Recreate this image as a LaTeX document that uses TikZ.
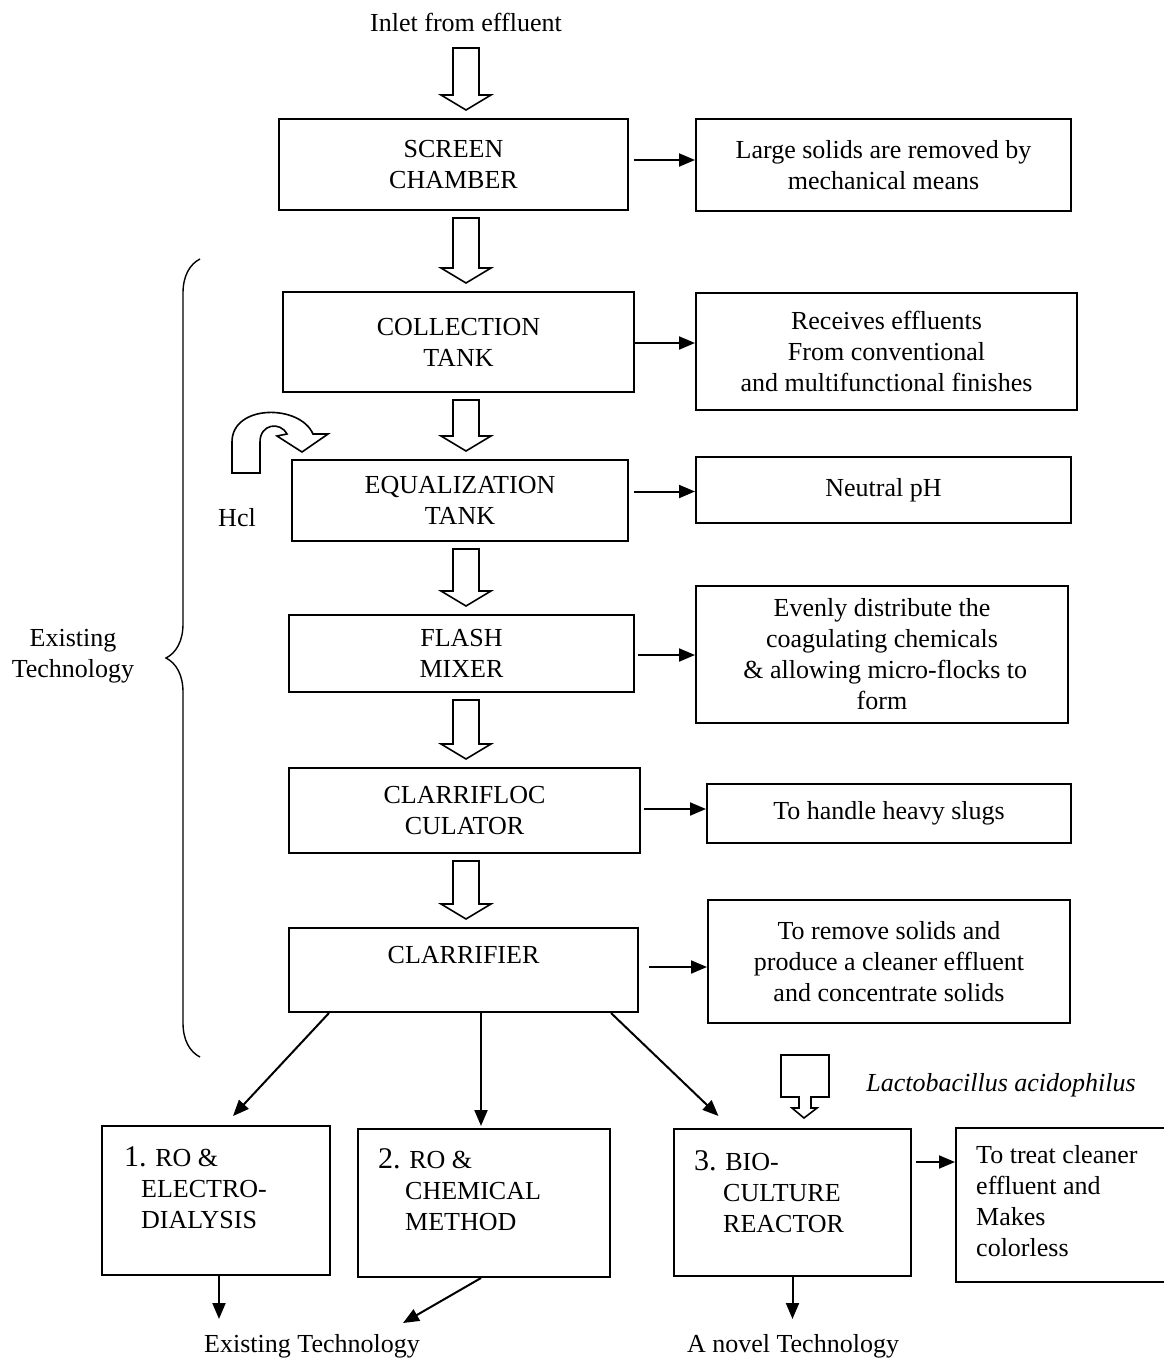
\documentclass[tikz,border=0pt]{standalone}
\usepackage{fontspec}
\setmainfont{Liberation Serif}
\usetikzlibrary{calc,arrows.meta,decorations.pathreplacing}
\tikzset{ box/.style = { rectangle % process step
, draw
, line width = 2pt
, align = center
, inner sep = 0pt
}
, lbl/.style = { align = left % text in a bottom box
, inner sep = 0pt
, anchor = north west
}
, arr/.style = { line width = 2pt % thin arrow
, -{Triangle[length=16pt, width=13pt]}
}
, blk/.style = { line width = 1.6pt % hollow arrow
, line join = miter
, fill = white
}
, brc/.style = { line width = 1.4pt % brace
, decorate
, decoration = {brace, amplitude=34pt}
}
}
\newcommand{\nr}[1]{{\fontsize{30}{31}\selectfont #1}}
\def\hollow(#1,#2){% hollow arrow from #1 down to #2
\draw[blk] let \p1 = (#1), \p2 = (#2) in
(453pt,\y1-7pt) -- (479pt,\y1-7pt) -- (479pt,\y2+23pt) -- (491pt,\y2+23pt)
-- (466pt,\y2+8pt) -- (441pt,\y2+23pt) -- (453pt,\y2+23pt) -- cycle;
}

\begin{document}
\begin{tikzpicture}[x=1pt, y=-1pt, font=\fontsize{26}{31}\selectfont]
\useasboundingbox (0,0) rectangle (1163,1361);

\node (inlet) at (466,22) {Inlet from effluent};
\coordinate (feed) at (466,41);

\node[box, minimum width=349, minimum height=91] (screen) at (453.5,164.5) {SCREEN\\CHAMBER};
\node[box, minimum width=351, minimum height=100] (coll) at (458.5,342) {COLLECTION\\TANK};
\node[box, minimum width=336, minimum height=81] (equal) at (460,500.5) {EQUALIZATION\\TANK};
\node[box, minimum width=345, minimum height=77] (flash) at (461.5,653.5) {FLASH\\MIXER};
\node[box, minimum width=351, minimum height=85] (floc) at (464.5,810.5) {CLARRIFLOC\\CULATOR};
\node[box, minimum width=349, minimum height=84, text depth=30pt] (clar) at (463.5,970) {CLARRIFIER};

\node[box, minimum width=375, minimum height=92] (large) at (883.5,165) {Large solids are removed by\\mechanical means};
\node[box, minimum width=381, minimum height=117] (recv) at (886.5,351.5) {Receives effluents\\From conventional\\and multifunctional finishes};
\node[box, minimum width=375, minimum height=66] (neutral) at (883.5,490) {Neutral pH};
\node[box, minimum width=372, minimum height=137] (even) at (882,654.5) {Evenly distribute the\\coagulating chemicals\\\ \& allowing micro-flocks to\\form};
\node[box, minimum width=364, minimum height=59] (slugs) at (889,813.5) {To handle heavy slugs};
\node[box, minimum width=362, minimum height=123] (remove) at (889,961.5) {To remove solids and\\produce a cleaner effluent\\and concentrate solids};

\hollow(feed,screen.north)
\hollow(screen.south,coll.north)
\hollow(coll.south,equal.north)
\hollow(equal.south,flash.north)
\hollow(flash.south,floc.north)
\hollow(floc.south,clar.north)

\foreach \a/\b/\dx/\dy in {screen/large/5/-4.5, coll/recv/0/1, equal/neutral/5/-9,
flash/even/3/1.5, floc/slugs/3/-1.5, clar/remove/10/-3}
\draw[arr] ([shift={(\dx,\dy)}]\a.east) coordinate (p) -- (\b.west |- p);

% acid dosing
\draw[blk] (232,473) -- (232,442) .. controls (232,404) and (300,404) .. (313,434)
-- (328,434) -- (302,452) -- (277,436) -- (287,434)
.. controls (280,421) and (260,424) .. (260,442) -- (260,473) -- cycle;
\node (hcl) at (237,518) {Hcl};

% existing plant
\coordinate (bb) at (200,1057);
\coordinate (bt) at (200,259);
\draw[brc] (bb) -- (bt);
\node[align=center] (exist) at (73,656) {Existing\\Technology};

% treatment options
\node[box, minimum width=228, minimum height=149] (ro1) at (216,1200.5) {};
\node[box, minimum width=252, minimum height=148] (ro2) at (484,1203) {};
\node[box, minimum width=237, minimum height=147] (bio) at (792.5,1202.5) {};
\node[box, minimum width=219, minimum height=154] (treat) at (1065.5,1205) {};
\node[lbl] (ro1t) at ([shift={(23,21)}]ro1.north west) {\nr{1.} RO \&\\\hspace*{17pt}ELECTRO-\\\hspace*{17pt}DIALYSIS};
\node[lbl] (ro2t) at ([shift={(21,20)}]ro2.north west) {\nr{2.} RO \&\\\hspace*{27pt}CHEMICAL\\\hspace*{27pt}METHOD};
\node[lbl] (biot) at ([shift={(21,22)}]bio.north west) {\nr{3.} BIO-\\\hspace*{29pt}CULTURE\\\hspace*{29pt}REACTOR};
\node[lbl] (treatt) at ([shift={(21,18)}]treat.north west) {To treat cleaner\\effluent and\\Makes\\colorless};

\draw[arr] ([xshift=41]clar.south west) -- ([shift={(17,-9)}]ro1.north);
\draw[arr] ([xshift=17.5]clar.south) -- ([shift={(-3,-2)}]ro2.north);
\draw[arr] ([xshift=-28]clar.south east) -- ([shift={(-74,-12)}]bio.north);
\draw[arr] ([shift={(4,-40.5)}]bio.east) coordinate (q) -- (treat.west |- q);

% culture feed
\draw[blk, shift={(bio.north)}] (-11.5,-73) -- (36.5,-73) -- (36.5,-31) -- (18.5,-31)
-- (18.5,-20) -- (24.5,-20) -- (11.5,-10) -- (-0.5,-20) -- (6.5,-20) -- (6.5,-31)
-- (-11.5,-31) -- cycle;
\node (lacto) at (1001,1085) {\itshape Lactobacillus acidophilus};

\coordinate (e1) at (219,1319);
\coordinate (e2) at (403,1323);
\coordinate (e3) at (792.5,1319);
\draw[arr] ([xshift=3]ro1.south) -- (e1);
\draw[arr] ([xshift=-3]ro2.south) -- (e2);
\draw[arr] (bio.south) -- (e3);
\node (old) at (312,1346) {Existing Technology};
\node (novel) at (793,1346) {A novel Technology};
\end{tikzpicture}
\end{document}
